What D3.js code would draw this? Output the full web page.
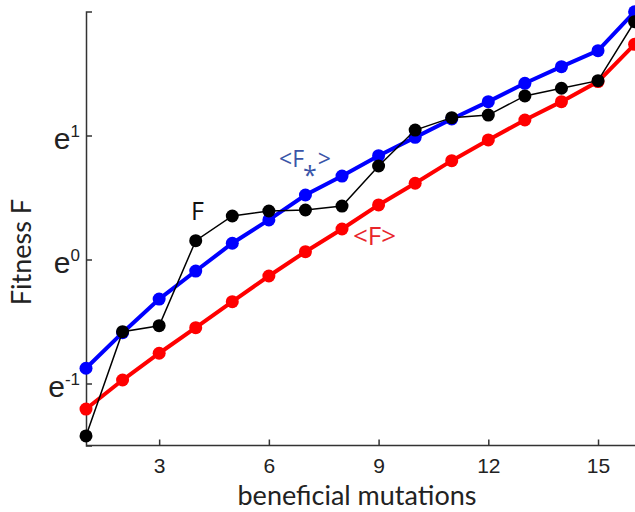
<!DOCTYPE html>
<html>
<head>
<meta charset="utf-8">
<script src="https://cdn.jsdelivr.net/npm/d3@7"></script>
<style>
  body { margin: 0; background: #fff; }
  svg { display: block; font-family: Lato, "Open Sans", sans-serif; }
  .lbl { font-family: "Open Sans", sans-serif; }
</style>
</head>
<body>
<div id="chart"></div>
<script>
// beneficial mutations (x) and ln(F) for each curve
const mutations = [1, 2, 3, 4, 5, 6, 7, 8, 9, 10, 11, 12, 13, 14, 15, 16];
const lnFstar = [-0.877, -0.59, -0.319, -0.093, 0.131, 0.319, 0.52, 0.673, 0.837, 0.985, 1.133, 1.273, 1.421, 1.555, 1.684, 1.998];
const lnFmean = [-1.206, -0.972, -0.756, -0.55, -0.34, -0.133, 0.063, 0.246, 0.44, 0.615, 0.797, 0.964, 1.125, 1.273, 1.435, 1.735];
const lnF = [-1.423, -0.582, -0.534, 0.152, 0.351, 0.391, 0.399, 0.431, 0.754, 1.044, 1.144, 1.165, 1.319, 1.381, 1.442, 1.918];
const xTicks = [3, 6, 9, 12, 15];
const yTicks = [-1, 0, 1];

const width = 635, height = 512;

const svg = d3.select("#chart").append("svg")
    .attr("width", width)
    .attr("height", height);

const x = d3.scaleLinear().domain([1, 16]).range([86, 634.6]);
const y = d3.scaleLinear().domain([-1.5, 2]).range([445.5, 11.5]);

// axes
const xAxis = d3.axisBottom(x)
    .tickValues(xTicks)
    .tickSizeInner(-6)
    .tickSizeOuter(0)
    .tickPadding(13);

const gx = svg.append("g")
    .attr("transform", `translate(0,${y(-1.5)})`)
    .call(xAxis);
gx.select(".domain").attr("d", `M${x(1)},0H${width}`);
gx.selectAll("text").style("font-size", "21px").attr("fill", "#222");

const yAxis = d3.axisLeft(y)
    .tickValues(yTicks)
    .tickSizeInner(-6)
    .tickSizeOuter(-6)
    .tickPadding(6)
    .tickFormat("");

const gy = svg.append("g")
    .attr("transform", `translate(${x(1)},0)`)
    .call(yAxis);

gy.selectAll(".tick text").each(function(d) {
    const t = d3.select(this)
        .attr("fill", "#222")
        .attr("dy", "0.42em")
        .style("font-size", "30px");
    t.append("tspan").text("e");
    t.append("tspan")
        .attr("dy", -12)
        .style("font-size", "17px")
        .text(d);
});

svg.selectAll(".domain, .tick line")
    .attr("stroke", "#333")
    .attr("stroke-width", 1.5);

// axis titles
svg.append("text")
    .attr("transform", `translate(31,252) rotate(-90)`)
    .attr("text-anchor", "middle")
    .style("font-size", "27px")
    .attr("fill", "#222")
    .text("Fitness F");

svg.append("text")
    .attr("x", 357)
    .attr("y", 505)
    .attr("text-anchor", "middle")
    .style("font-size", "27px")
    .attr("fill", "#222")
    .text("beneficial mutations");

// series
const series = [
    { name: "mean", values: lnFmean, color: "#ff0000", lw: 4 },
    { name: "star", values: lnFstar, color: "#0000ff", lw: 4 },
    { name: "F", values: lnF, color: "#000000", lw: 1.5 }
];

const line = d3.line()
    .x((d, i) => x(mutations[i]))
    .y(d => y(d));

series.forEach(s => {
    const g = svg.append("g");
    g.append("path")
        .datum(s.values)
        .attr("d", line)
        .attr("fill", "none")
        .attr("stroke", s.color)
        .attr("stroke-width", s.lw);
    g.selectAll("circle")
        .data(s.values)
        .enter()
        .append("circle")
        .attr("cx", (d, i) => x(mutations[i]))
        .attr("cy", d => y(d))
        .attr("r", 6.5)
        .attr("fill", s.color);
});

// inline labels
svg.append("text")
    .attr("class", "lbl")
    .attr("x", 191)
    .attr("y", 220)
    .style("font-size", "25px")
    .attr("fill", "#111")
    .text("F");

const lblStar = svg.append("text")
    .attr("class", "lbl")
    .attr("x", 279)
    .attr("y", 167)
    .style("font-size", "23px")
    .attr("fill", "#3a55a8");
lblStar.append("tspan").text("<F");
lblStar.append("tspan").attr("dx", -1).attr("dy", 17).style("font-size", "25px").text("*");
lblStar.append("tspan").attr("dx", 1).attr("dy", -17).text(">");

svg.append("text")
    .attr("class", "lbl")
    .attr("x", 353)
    .attr("y", 245)
    .style("font-size", "26px")
    .attr("fill", "#e8262b")
    .text("<F>");
</script>
</body>
</html>
